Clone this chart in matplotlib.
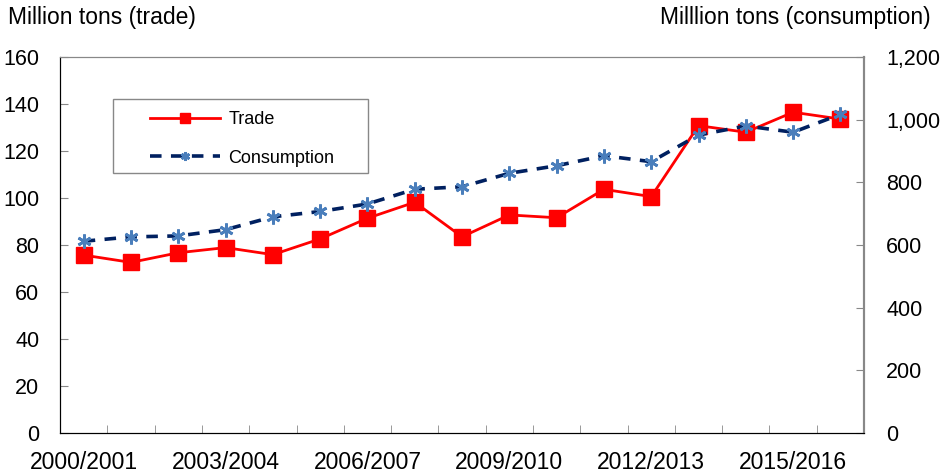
# trade vs consumption, two y axes, Excel-like styling
import numpy as np
import matplotlib.pyplot as plt
from matplotlib.patches import Rectangle
from matplotlib.ticker import FuncFormatter

plt.rcParams['font.family'] = ['Liberation Sans', 'DejaVu Sans']

# marketing years 2000/2001 .. 2016/2017
years = ['2000/2001', '2001/2002', '2002/2003', '2003/2004', '2004/2005',
         '2005/2006', '2006/2007', '2007/2008', '2008/2009', '2009/2010',
         '2010/2011', '2011/2012', '2012/2013', '2013/2014', '2014/2015',
         '2015/2016', '2016/2017']
trade = [75.7, 72.6, 76.7, 78.9, 75.9, 82.6, 91.4, 98.2, 83.5, 92.8,
         91.6, 103.7, 100.6, 130.8, 128.0, 136.5, 133.6]
consumption = [612, 626, 629, 649, 690, 707, 731, 778, 786, 829,
               853, 885, 866, 951, 980, 960, 1017]

x = np.arange(len(years))

fig = plt.figure(figsize=(9.44, 4.74), dpi=100)
ax = fig.add_axes([0.0636, 0.0865, 0.8517, 0.7932])
ax2 = ax.twinx()

l1, = ax.plot(x, trade, color='#ff0000', lw=2, marker='s', markersize=11,
              label='Trade')
l2, = ax2.plot(x, consumption, color='#002060', lw=2.6, ls=(0, (3.2, 2.6)),
               marker=(6, 2, 0), markersize=10, markeredgewidth=2,
               markeredgecolor='#4a7ebb', label='Consumption')

ax.set_xlim(-0.5, len(years) - 0.5)
ax.set_ylim(0, 160)
ax2.set_ylim(0, 1200)
ax.set_yticks(np.arange(0, 161, 20))
ax2.set_yticks(np.arange(0, 1201, 200))
ax2.yaxis.set_major_formatter(FuncFormatter(lambda v, p: f'{int(v):,}'))

# category labels every third year, ticks between categories
ax.set_xticks(x[::3])
ax.set_xticklabels(years[::3])
ax.set_xticks(np.arange(-0.5, len(years), 1), minor=True)
ax.tick_params(axis='x', which='major', length=0, labelsize=16.5, pad=13)
ax.tick_params(axis='x', which='minor', direction='in', length=6,
               color='#888888')
ax.tick_params(axis='y', direction='in', length=6, labelsize=15.5, pad=15,
               color='#888888')
ax2.tick_params(axis='y', direction='in', length=6, labelsize=15.5, pad=16,
                color='#888888')

for a in (ax, ax2):
    a.spines['left'].set_color('black')
    a.spines['bottom'].set_color('black')
    a.spines['top'].set_color('#888888')
    a.spines['right'].set_color('#888888')
    a.spines['right'].set_linewidth(1.5)

fig.text(0.008, 0.964, 'Million tons (trade)', fontsize=16.5, va='center')
fig.text(0.986, 0.964, 'Milllion tons (consumption)', fontsize=16.5,
         va='center', ha='right')

# legend box drawn separately so the padding matches the original
fig.patches.append(Rectangle((0.1197, 0.635), 0.2701, 0.156,
                             transform=fig.transFigure, fill=False,
                             edgecolor='#888888', lw=1))
leg = ax2.legend(handles=[l1, l2], loc='upper left',
                 bbox_to_anchor=(0.1589, 0.766),
                 bbox_transform=fig.transFigure, fontsize=13, frameon=False,
                 handlelength=3.9, labelspacing=1.2, borderpad=0,
                 handletextpad=0.45, borderaxespad=0, markerscale=0.65)

fig.savefig('out.png', dpi=100)
